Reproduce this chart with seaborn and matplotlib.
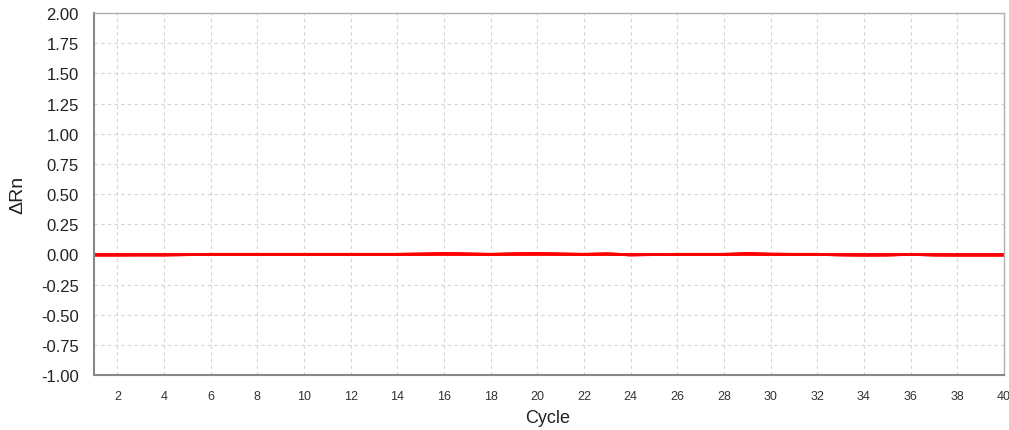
import numpy as np
import pandas as pd
import seaborn as sns
import matplotlib
matplotlib.use("Agg")
import matplotlib.pyplot as plt

cycles = list(range(1, 41))
well_a = [0.0] * 40
well_b = [-0.008, -0.008, -0.007, -0.006, -0.003, 0.0, 0.0, 0.0, 0.0, 0.0,
          0.0, 0.0, 0.0, 0.0, 0.004, 0.008, 0.005, 0.0, 0.006, 0.008,
          0.004, 0.0, 0.006, -0.006, -0.002, 0.0, 0.0, 0.0, 0.008, 0.002,
          0.0, 0.0, -0.006, -0.008, -0.007, 0.0, -0.007, -0.008, -0.008, -0.008]
well_c = [-0.004, -0.004, -0.004, -0.006, -0.002, 0.0, 0.0, 0.0, 0.0, 0.0,
          0.0, 0.0, 0.0, 0.0, 0.002, 0.004, 0.002, 0.0, 0.003, 0.005,
          0.002, 0.0, 0.003, -0.004, -0.001, 0.0, 0.0, 0.0, 0.005, 0.001,
          0.0, 0.0, -0.004, -0.006, -0.005, 0.0, -0.005, -0.006, -0.006, -0.006]
y_ticks = [-1.0, -0.75, -0.5, -0.25, 0.0, 0.25, 0.5, 0.75, 1.0, 1.25, 1.5, 1.75, 2.0]
x_ticks = list(range(2, 41, 2))

df = pd.DataFrame({
    "Cycle": cycles * 3,
    "dRn": well_a + well_b + well_c,
    "well": ["A"] * 40 + ["B"] * 40 + ["C"] * 40,
})

sns.set_style("white")
plt.rcParams["font.family"] = ["Liberation Sans", "DejaVu Sans"]

fig = plt.figure(figsize=(10.09, 4.31), dpi=100)
ax = fig.add_axes([0.0932, 0.1276, 0.9018, 0.8399])

sns.lineplot(data=df, x="Cycle", y="dRn", units="well", estimator=None,
             color="#ff0000", linewidth=2.0, ax=ax, legend=False)

ax.set_xlim(1, 40)
ax.set_ylim(-1.0, 2.0)
ax.set_xticks(x_ticks)
ax.set_yticks(y_ticks)
ax.set_xticklabels([str(t) for t in x_ticks], fontsize=9, color="#333333")
ax.set_yticklabels([f"{t:.2f}" for t in y_ticks], fontsize=12, color="#222222")
ax.grid(True, color="#d4d4d4", linestyle=(0, (3, 3)), linewidth=0.8)
ax.set_axisbelow(True)
for s in ["left", "bottom"]:
    ax.spines[s].set_color("#888888")
    ax.spines[s].set_linewidth(1.5)
for s in ["top", "right"]:
    ax.spines[s].set_color("#b0b0b0")
    ax.spines[s].set_linewidth(1.0)
ax.tick_params(axis="both", direction="out", length=4, width=1, color="#888888", pad=7)
ax.set_xlabel("Cycle", fontsize=13, color="#222222")
ax.set_ylabel("\u0394Rn", fontsize=14, color="#222222")
ax.xaxis.set_label_coords(0.498, -0.095)
ax.yaxis.set_label_coords(-0.074, 0.5)

fig.savefig("out.png", dpi=100)
